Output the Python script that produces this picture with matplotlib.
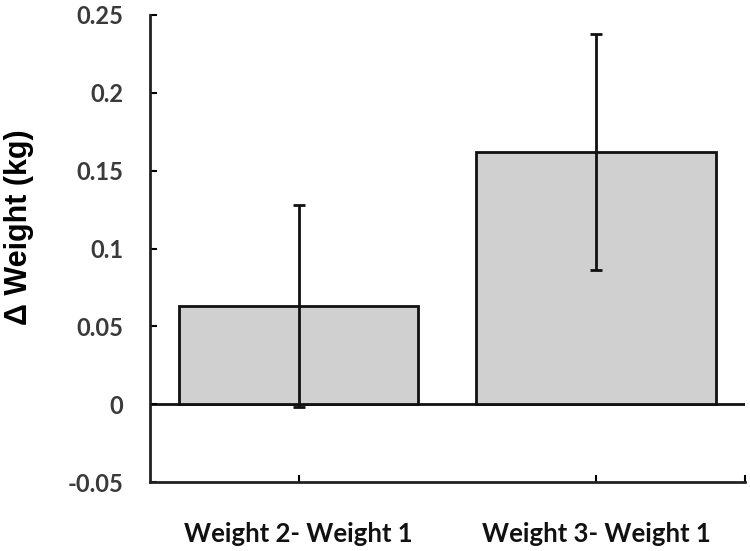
import matplotlib.pyplot as plt

# wartosci
kategorie = ["Weight 2- Weight 1", "Weight 3- Weight 1"]
srednie = [0.063, 0.162]
bledy = [0.065, 0.076]
yticki = [-0.05, 0, 0.05, 0.1, 0.15, 0.2, 0.25]
yetykiety = ["-0.05", "0", "0.05", "0.1", "0.15", "0.2", "0.25"]

fig = plt.figure(figsize=(7.5, 5.51), dpi=100)
ax = fig.add_axes([0.2, 0.125, 0.793, 0.848])

x = range(len(kategorie))
ax.bar(x, srednie, width=0.805, color="#d0d0d0", edgecolor="#111111", linewidth=2, zorder=2)
ax.errorbar(x, srednie, yerr=bledy, fmt="none", ecolor="#111111", elinewidth=2,
            capsize=4.5, capthick=2, zorder=3)
ax.axhline(0, color="#111111", linewidth=2, zorder=1)

ax.set_xlim(-0.5, 1.5)
ax.set_ylim(-0.05, 0.25)
ax.set_yticks(yticki)
ax.set_yticklabels(yetykiety, fontfamily="Lato", fontweight="bold", fontsize=17, color="#3a3a3a")
ax.set_xticks([0, 1, 1.5])
ax.set_xticklabels([kategorie[0], kategorie[1], ""], fontfamily="Lato", fontweight="bold",
                   fontsize=18.5, color="#111111")
ax.tick_params(axis="y", direction="in", length=5, width=1.5, pad=19)
ax.tick_params(axis="x", direction="in", length=5, width=1.5, pad=29)

for s in ["top", "right"]:
    ax.spines[s].set_visible(False)
for s in ["left", "bottom"]:
    ax.spines[s].set_linewidth(2)
    ax.spines[s].set_color("#222222")

ax.set_ylabel("Δ Weight (kg)", fontfamily="Liberation Sans", fontweight="bold", fontsize=22)
ax.yaxis.set_label_coords(-0.195, 0.545)

fig.savefig("out.png", dpi=100)
